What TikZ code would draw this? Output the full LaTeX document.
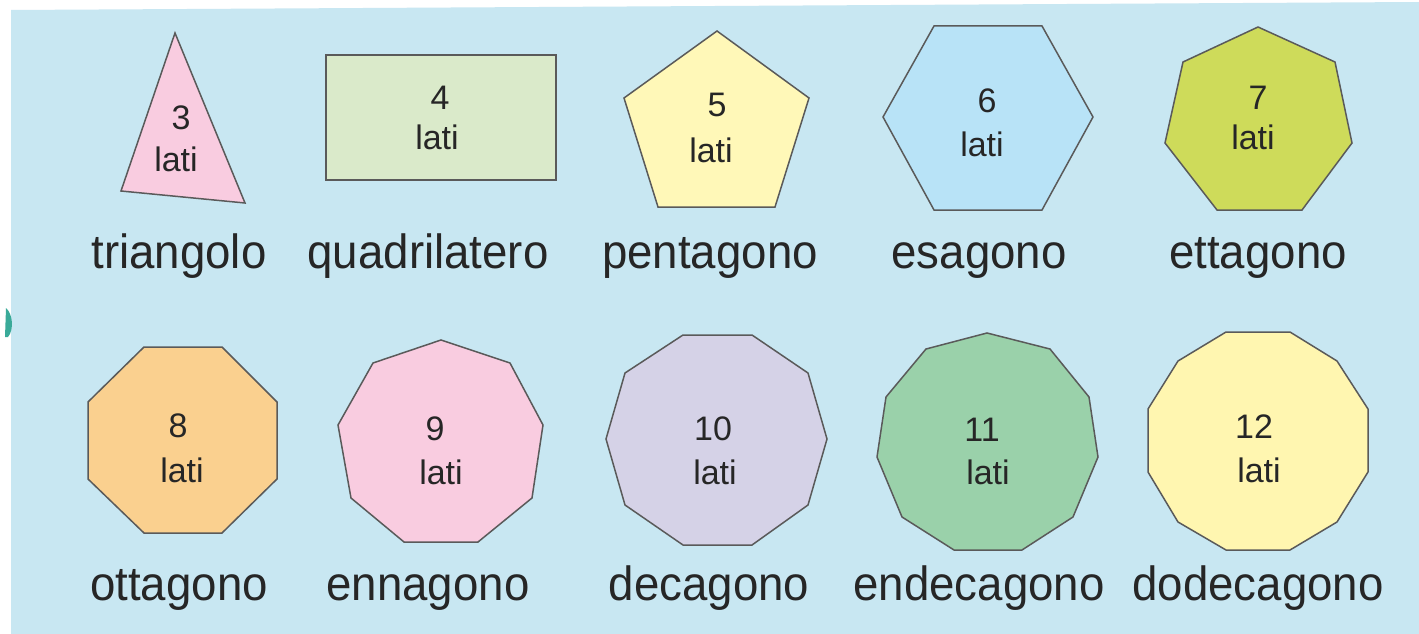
\documentclass[tikz,border=0pt]{standalone}
\usepackage{fontspec}
\setmainfont{Liberation Sans}
\newfontfamily\labfont[FakeStretch=0.95]{Liberation Sans}
\definecolor{bgblue}{HTML}{C8E7F2}
\definecolor{cTri}{HTML}{F9CCE0}
\definecolor{cRect}{HTML}{DAEACA}
\definecolor{cPent}{HTML}{FFF8B8}
\definecolor{cHex}{HTML}{B8E3F7}
\definecolor{cHept}{HTML}{CEDB5A}
\definecolor{cOct}{HTML}{FAD08F}
\definecolor{cEnn}{HTML}{F9CCE0}
\definecolor{cDec}{HTML}{D5D2E7}
\definecolor{cEnd}{HTML}{9AD1AA}
\definecolor{cDod}{HTML}{FFF6B0}
\definecolor{edge}{HTML}{5A5A5A}
\definecolor{ink}{HTML}{262626}
\definecolor{teal}{HTML}{3AAA99}
\tikzset{
  poly/.style={draw=edge, line width=1.5pt, line join=miter},
  num/.style={anchor=base, text=ink, font=\fontsize{34}{34}\selectfont, inner sep=0pt},
  lab/.style={anchor=base, text=ink, font=\labfont\fontsize{48}{48}\selectfont, inner sep=0pt},
}
\begin{document}
\begin{tikzpicture}[x=1pt,y=-1pt]
\useasboundingbox (0,0) rectangle (1419,634);
\fill[white] (0,0) rectangle (1419,634);
\fill[bgblue] (11,10) -- (1419,2) -- (1419,634) -- (11,634) -- cycle;
\fill[teal] (6,308) .. controls (13,314) and (14,330) .. (8,337) -- (5,337) -- cycle;
% row 1
\filldraw[poly, fill=cTri] (175,33) -- (245,203) -- (121,191) -- cycle;
\filldraw[poly, fill=cRect] (326,55) rectangle (556,180);
\filldraw[poly, fill=cPent] (717,31) -- (809,98) -- (775,207) -- (658,207) -- (624,98) -- cycle;
\filldraw[poly, fill=cHex] (934,26) -- (1042,26) -- (1093,117) -- (1042,210) -- (934,210) -- (883,117) -- cycle;
\filldraw[poly, fill=cHept] (1258,27) -- (1335,62) -- (1352,143) -- (1302,210) -- (1217,210) -- (1165,143) -- (1183,62) -- cycle;
% row 2
\filldraw[poly, fill=cOct] (144,347) -- (222,347) -- (277,402) -- (277,479) -- (222,533) -- (144,533) -- (88,479) -- (88,402) -- cycle;
\filldraw[poly, fill=cEnn] (441,340) -- (510,363) -- (543,425) -- (532,498) -- (478,542) -- (404,542) -- (351,498) -- (338,425) -- (373,363) -- cycle;
\filldraw[poly, fill=cDec] (683,335) -- (752,335) -- (808,373) -- (827,439) -- (808,505) -- (752,545) -- (683,545) -- (625,505) -- (606,439) -- (625,373) -- cycle;
\filldraw[poly, fill=cEnd] (987,333) -- (1050,349) -- (1089,397) -- (1098,457) -- (1073,517) -- (1022,550) -- (954,550) -- (902,517) -- (877,457) -- (886,397) -- (926,349) -- cycle;
\filldraw[poly, fill=cDod] (1226,332) -- (1290,332) -- (1337,361) -- (1368,409) -- (1368,472) -- (1337,522) -- (1290,550) -- (1226,550) -- (1178,522) -- (1148,472) -- (1148,409) -- (1178,361) -- cycle;
% inner texts
\node[num] (n3) at (181,129) {3};   \node[num] (l3) at (176,171) {lati};
\node[num] (n4) at (440,109) {4};   \node[num] (l4) at (437,149) {lati};
\node[num] (n5) at (717,117) {5};   \node[num] (l5) at (711,162) {lati};
\node[num] (n6) at (987,112) {6};   \node[num] (l6) at (982,156) {lati};
\node[num] (n7) at (1258,109) {7};  \node[num] (l7) at (1253,149) {lati};
\node[num] (n8) at (178,437) {8};   \node[num] (l8) at (182,482) {lati};
\node[num] (n9) at (435,440) {9};   \node[num] (l9) at (441,484) {lati};
\node[num] (n10) at (713,440) {10}; \node[num] (l10) at (715,484) {lati};
\node[num] (n11) at (982,441) {11}; \node[num] (l11) at (988,484) {lati};
\node[num] (n12) at (1254,438) {12};\node[num] (l12) at (1259,482) {lati};
% labels
\node[lab] (t3) at (179,268) {triangolo};
\node[lab] (t4) at (428,268) {quadrilatero};
\node[lab] (t5) at (710,268) {pentagono};
\node[lab] (t6) at (979,268) {esagono};
\node[lab] (t7) at (1258,268) {ettagono};
\node[lab] (t8) at (179,600) {ottagono};
\node[lab] (t9) at (428,600) {ennagono};
\node[lab] (t10) at (709,600) {decagono};
\node[lab] (t11) at (979,600) {endecagono};
\node[lab] (t12) at (1258,600) {dodecagono};
\end{tikzpicture}
\end{document}
